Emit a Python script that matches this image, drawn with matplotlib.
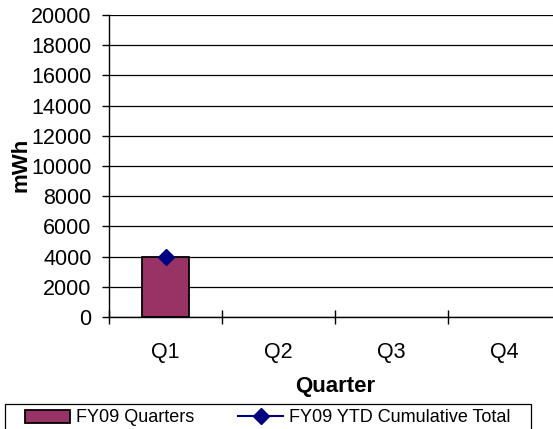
import numpy as np
import matplotlib
matplotlib.use("Agg")
import matplotlib.pyplot as plt
from matplotlib.patches import Rectangle
from matplotlib.ticker import MultipleLocator, FixedLocator

plt.rcParams['font.family'] = ['Liberation Sans', 'DejaVu Sans']

quarters = ["Q1", "Q2", "Q3", "Q4"]
fy09_quarters = [4000, np.nan, np.nan, np.nan]
fy09_ytd_total = [4000, np.nan, np.nan, np.nan]

bar_color = "#993366"
line_color = "#000080"

fig = plt.figure(figsize=(5.53, 4.29), dpi=100)
ax = fig.add_axes([109 / 553, 112 / 429, 452 / 553, 302 / 429])

x = np.arange(len(quarters))
q_vals = np.array(fy09_quarters, dtype=float)
has_val = ~np.isnan(q_vals)
bars = ax.bar(x[has_val], q_vals[has_val], width=0.41, color=bar_color,
              edgecolor="black", linewidth=1.3, zorder=3, label="FY09 Quarters")
line, = ax.plot(x, fy09_ytd_total, color=line_color, marker="D", markersize=8,
                linewidth=1.5, zorder=4, label="FY09 YTD Cumulative Total")

ax.set_xlim(-0.5, len(quarters) - 0.5)
ax.set_ylim(0, 20000)
ax.yaxis.set_major_locator(MultipleLocator(2000))
ax.yaxis.grid(True, color="black", linewidth=0.9, zorder=0)
ax.set_axisbelow(True)

for side in ("top", "right"):
    ax.spines[side].set_visible(False)
for side in ("left", "bottom"):
    ax.spines[side].set_color("black")
    ax.spines[side].set_linewidth(1.0)

ax.set_xticks(x)
ax.set_xticklabels(quarters)
ax.xaxis.set_minor_locator(FixedLocator(np.arange(-0.5, len(quarters), 1.0)))
ax.tick_params(axis="x", which="major", length=0, pad=18, labelsize=15.5)
ax.tick_params(axis="x", which="minor", direction="inout", length=9.5,
               width=1.0, color="black")
ax.tick_params(axis="y", which="major", direction="out", length=5, width=1.0,
               pad=7.5, labelsize=15.5)

fig.text(21 / 553, 1 - 165 / 429, "mWh", rotation=90, ha="center", va="center",
         fontsize=16, fontweight="bold")
fig.text(335 / 553, 1 - 392 / 429, "Quarter", ha="center", va="baseline",
         fontsize=16, fontweight="bold")

# legend frame runs past the bottom edge of the figure
fig.patches.append(Rectangle((5 / 553, -0.05), 526 / 553, 0.05 + 25 / 429,
                             transform=fig.transFigure, facecolor="white",
                             edgecolor="black", linewidth=0.9, zorder=1))
leg = fig.legend(handles=[bars, line], loc="center left",
                 bbox_to_anchor=(25 / 553, 1 - 418 / 429), ncol=2, fontsize=13,
                 frameon=False, borderaxespad=0, borderpad=0, handlelength=2.5,
                 handletextpad=0.35, columnspacing=2.4)
leg.set_zorder(2)

fig.savefig("out.png", dpi=100)
